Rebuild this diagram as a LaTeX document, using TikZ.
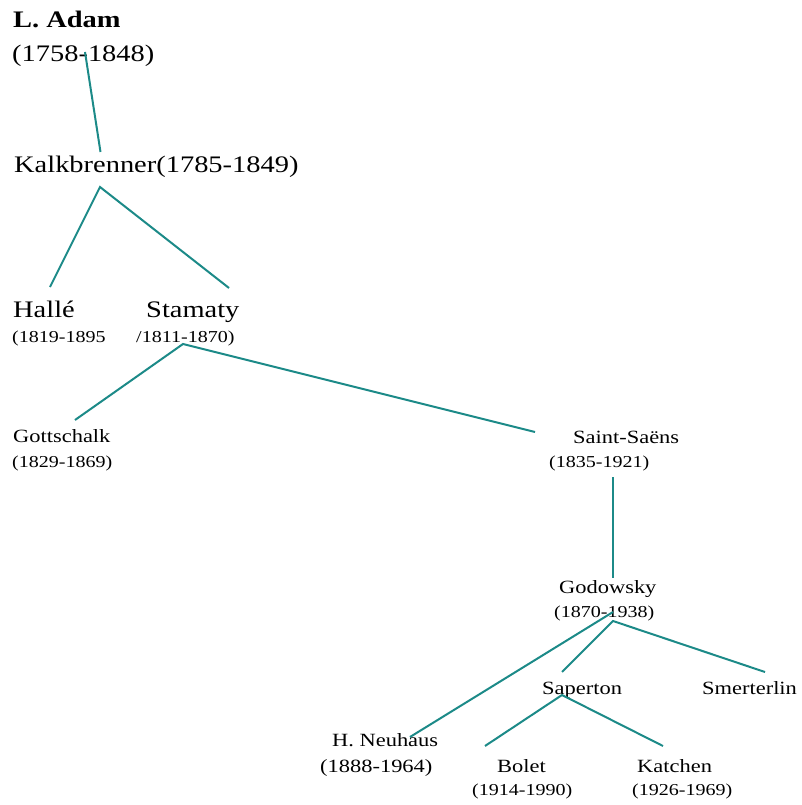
\documentclass[tikz,border=0pt]{standalone}
\usepackage{fontspec}
\setmainfont{Liberation Serif}[FakeStretch=1.2]
\definecolor{tealline}{RGB}{28,138,136}
\tikzset{
  big/.style={anchor=base west, inner sep=0pt, font=\fontsize{23.7}{26}\selectfont},
  bigb/.style={big, font=\fontsize{23.7}{26}\selectfont\bfseries},
  mid/.style={anchor=base west, inner sep=0pt, font=\fontsize{18.7}{21}\selectfont},
  small/.style={anchor=base west, inner sep=0pt, font=\fontsize{16.7}{19}\selectfont},
  conn/.style={draw=tealline, line width=2pt}
}
\begin{document}
\begin{tikzpicture}[x=1pt,y=-1pt]
\useasboundingbox (0,0) rectangle (802,805);
% nodes
\node[bigb] (adam) at (13,28) {L. Adam};
\node[big] (adamd) at (12,62) {(1758-1848)};
\node[big] (kalk) at (14,172) {Kalkbrenner(1785-1849)};
\node[big] (halle) at (13,317) {Hallé};
\node[small] (halled) at (12,342) {(1819-1895};
\node[big] (stamaty) at (146,317) {Stamaty};
\node[small] (stamatyd) at (136,342) {/1811-1870)};
\node[mid] (gott) at (13,442) {Gottschalk};
\node[small] (gottd) at (12,467) {(1829-1869)};
\node[mid] (saint) at (573,443) {Saint-Saëns};
\node[small] (saintd) at (549,467) {(1835-1921)};
\node[mid] (godow) at (559,593) {Godowsky};
\node[small] (godowd) at (554,617) {(1870-1938)};
\node[mid] (saper) at (542,694) {Saperton};
\node[mid] (smert) at (702,694) {Smerterlin};
\node[mid] (neuh) at (332,746) {H. Neuhaus};
\node[mid] (neuhd) at (320,772) {(1888-1964)};
\node[mid] (bolet) at (497,772) {Bolet};
\node[small] (boletd) at (472,795) {(1914-1990)};
\node[mid] (katch) at (637,772) {Katchen};
\node[small] (katchd) at (632,795) {(1926-1969)};
% connector end points
\coordinate (adamP) at (85,52);
\coordinate (kalkT) at (100.5,152);
\coordinate (kalkB) at (100,187);
\coordinate (halleT) at (50,287);
\coordinate (stamatyT) at (229,288);
\coordinate (stamatyB) at (183,344);
\coordinate (gottT) at (75,420);
\coordinate (saintT) at (535,432);
\coordinate (saintB) at (613,477);
\coordinate (godowT) at (613,578);
\coordinate (godowB1) at (613,612);
\coordinate (godowB2) at (613,621);
\coordinate (neuhT) at (410,737);
\coordinate (saperT) at (562,672);
\coordinate (smertT) at (765,672);
\coordinate (saperB) at (562,695);
\coordinate (boletT) at (485,746);
\coordinate (katchT) at (663,746);
% connectors
\draw[conn] (adamP) -- (kalkT);
\draw[conn] (halleT) -- (kalkB) -- (stamatyT);
\draw[conn] (gottT) -- (stamatyB) -- (saintT);
\draw[conn] (saintB) -- (godowT);
\draw[conn] (godowB1) -- (neuhT);
\draw[conn] (saperT) -- (godowB2) -- (smertT);
\draw[conn] (boletT) -- (saperB) -- (katchT);
\end{tikzpicture}
\end{document}
